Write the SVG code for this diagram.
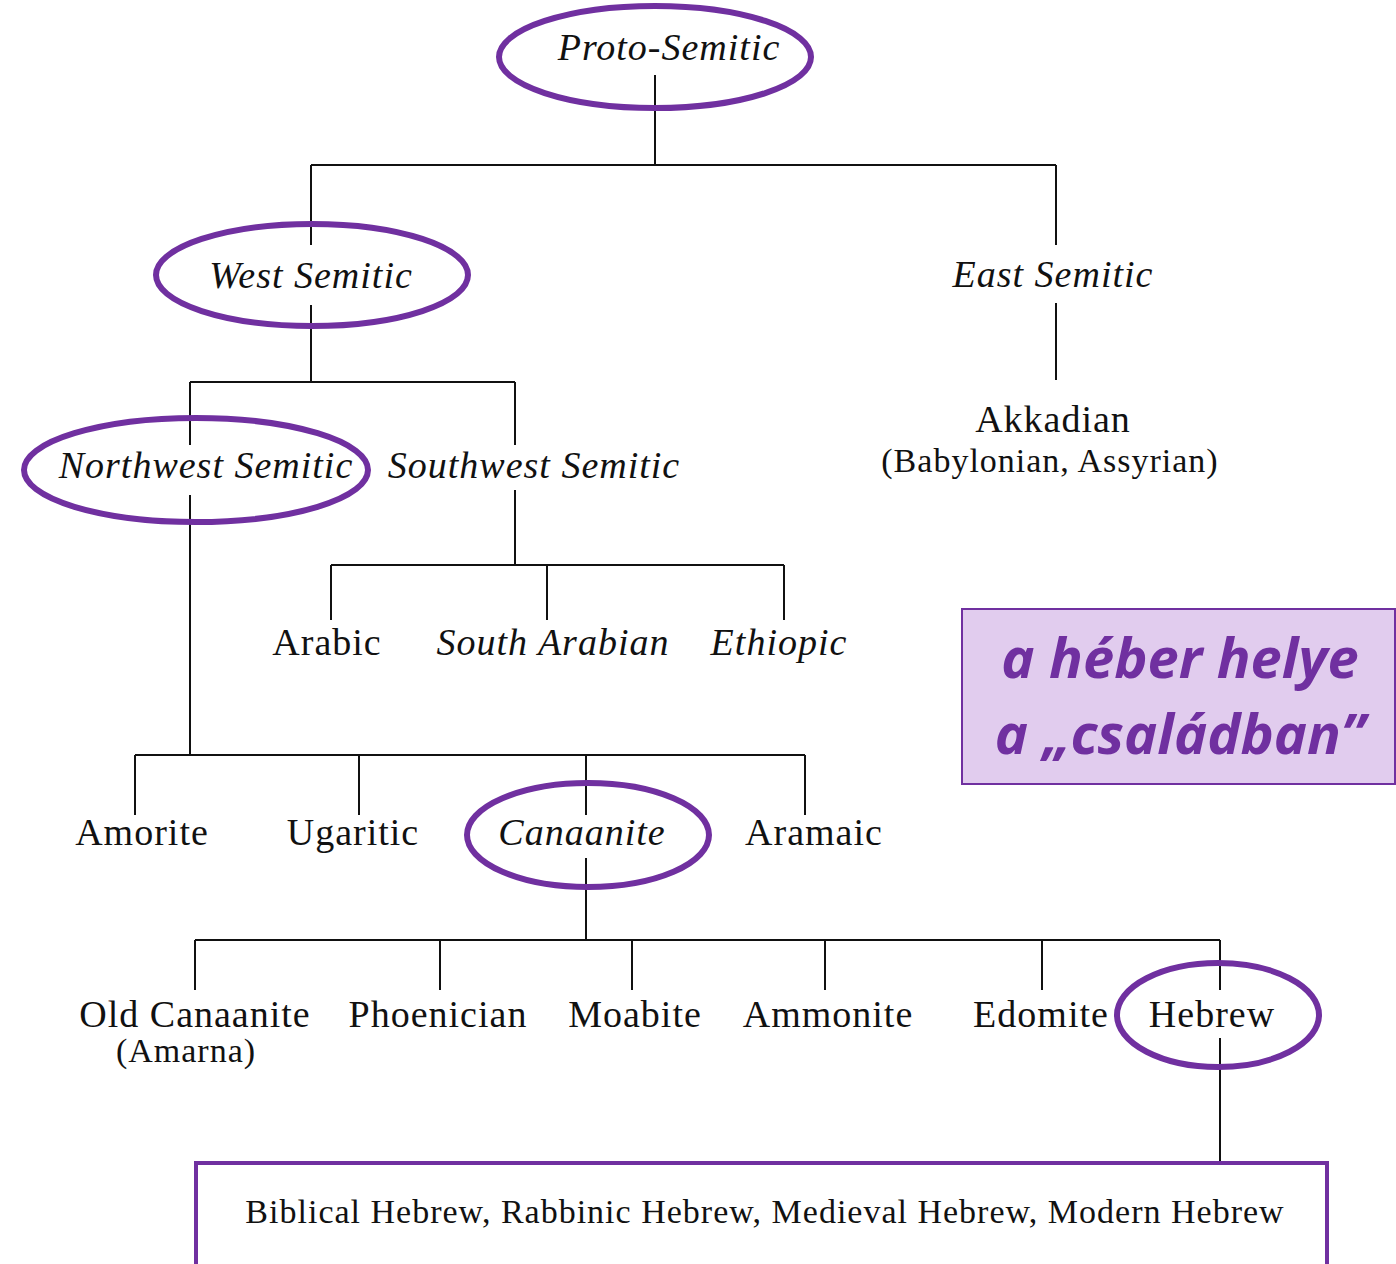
<svg xmlns="http://www.w3.org/2000/svg" width="1396" height="1264" viewBox="0 0 1396 1264">
<style>
.l{stroke:#111;stroke-width:2;fill:none}
.t{font-family:"Liberation Serif","Times New Roman",serif;font-size:38px;letter-spacing:1px;fill:#111;text-anchor:middle}
.i{font-style:italic}
.s{font-size:34px}
.e{fill:none;stroke:#7030A0;stroke-width:6}
.h{font-family:"Open Sans","Noto Sans",sans-serif;font-weight:bold;font-style:italic;font-size:56px;fill:#7030A0;text-anchor:middle}
</style>
<rect width="1396" height="1264" fill="#fff"/>
<g id="connectors">
<path class="l" d="M655 75V165M311 165H1056M311 165V245M1056 165V245"/>
<path class="l" d="M311 305V382M190 382H515M190 382V445M515 382V445"/>
<path class="l" d="M515 490V565M331 565H784M331 565V620M547 565V620M784 565V620"/>
<path class="l" d="M1056 303V380"/>
<path class="l" d="M190 495V755M135 755H805M135 755V815M359 755V815M586 755V815M805 755V815"/>
<path class="l" d="M586 858V940M195 940H1220M195 940V990M440 940V990M632 940V990M825 940V990M1042 940V990M1220 940V990"/>
<path class="l" d="M1220 1038V1162"/>
</g>
<g id="proto-semitic"><text class="t i" x="669" y="60">Proto-Semitic</text><ellipse class="e" cx="655" cy="57" rx="156" ry="51"/></g>
<g id="west-semitic"><text class="t i" x="311" y="288">West Semitic</text><ellipse class="e" cx="312" cy="275" rx="156" ry="51"/></g>
<g id="east-semitic"><text class="t i" x="1053" y="287">East Semitic</text></g>
<g id="northwest-semitic"><text class="t i" x="206" y="478">Northwest Semitic</text><ellipse class="e" cx="196" cy="470" rx="172" ry="52"/></g>
<g id="southwest-semitic"><text class="t i" x="534" y="478">Southwest Semitic</text></g>
<g id="akkadian"><text class="t" x="1053" y="432">Akkadian</text><text class="t s" x="1050" y="472">(Babylonian, Assyrian)</text></g>
<g id="arabic"><text class="t" x="327" y="655">Arabic</text></g>
<g id="south-arabian"><text class="t i" x="553" y="655">South Arabian</text></g>
<g id="ethiopic"><text class="t i" x="779" y="655">Ethiopic</text></g>
<g id="amorite"><text class="t" x="142" y="845">Amorite</text></g>
<g id="ugaritic"><text class="t" x="353" y="845">Ugaritic</text></g>
<g id="canaanite"><text class="t i" x="582" y="845">Canaanite</text><ellipse class="e" cx="588" cy="835" rx="121" ry="52"/></g>
<g id="aramaic"><text class="t" x="814" y="845">Aramaic</text></g>
<g id="old-canaanite"><text class="t" x="195" y="1027">Old Canaanite</text><text class="t s" x="186" y="1062">(Amarna)</text></g>
<g id="phoenician"><text class="t" x="438" y="1027">Phoenician</text></g>
<g id="moabite"><text class="t" x="635" y="1027">Moabite</text></g>
<g id="ammonite"><text class="t" x="828" y="1027">Ammonite</text></g>
<g id="edomite"><text class="t" x="1041" y="1027">Edomite</text></g>
<g id="hebrew"><text class="t" x="1212" y="1027">Hebrew</text><ellipse class="e" cx="1218" cy="1015" rx="101" ry="52"/></g>
<g id="hebrew-stages"><rect x="196" y="1163" width="1131" height="110" fill="none" stroke="#7030A0" stroke-width="4"/><text class="t s" x="765" y="1223">Biblical Hebrew, Rabbinic Hebrew, Medieval Hebrew, Modern Hebrew</text></g>
<g id="note"><rect x="962" y="609" width="433" height="175" fill="#E1CCEE" stroke="#7030A0" stroke-width="2"/><text class="h" x="1180" y="678">a héber helye</text><text class="h" x="1180" y="754">a „családban”</text></g>
</svg>
